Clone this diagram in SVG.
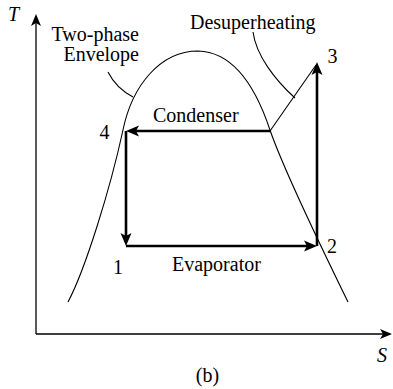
<svg xmlns="http://www.w3.org/2000/svg" width="393" height="389" viewBox="0 0 393 389">
  <style>
    .txt { font-family: "Liberation Serif", "Times New Roman", serif; font-size: 20px; fill: #000; }
    .it { font-style: italic; }
    .thin { fill: none; stroke: #000; stroke-width: 1.1; }
    .axis { fill: none; stroke: #000; stroke-width: 1.3; }
    .cyc { fill: none; stroke: #000; stroke-width: 2.6; }
  </style>
  <defs>
    <marker id="arrC" markerUnits="userSpaceOnUse" markerWidth="16" markerHeight="14" viewBox="0 -7 16 14" refX="3" refY="0" orient="auto">
      <path d="M0,-5.5 L13,0 L0,5.5 L3,0 Z" fill="#000"/>
    </marker>
    <marker id="arrA" markerUnits="userSpaceOnUse" markerWidth="16" markerHeight="14" viewBox="0 -7 16 14" refX="3" refY="0" orient="auto">
      <path d="M0,-5 L12,0 L0,5 L3,0 Z" fill="#000"/>
    </marker>
  </defs>
  <rect x="0" y="0" width="393" height="389" fill="#fff"/>

  <g id="axes">
    <path class="axis" d="M36,334 V23" marker-end="url(#arrA)"/>
    <path class="axis" d="M36,334 H383" marker-end="url(#arrA)"/>
    <text class="txt it" x="8" y="21">T</text>
    <text class="txt it" x="377" y="362">S</text>
  </g>

  <g id="envelope">
    <path class="thin" d="M68,302 C85,270 110,190 123,130 C132,86 160,51 198,51 C240,52 260,100 270,130 C282,165 325,255 348,302"/>
  </g>

  <g id="connectors">
    <path class="cyc" d="M270,131 H136" marker-end="url(#arrC)"/>
    <path class="cyc" d="M126,131 V236" marker-end="url(#arrC)"/>
    <path class="cyc" d="M126,246 H307" marker-end="url(#arrC)"/>
    <path class="cyc" d="M317,246 V72" marker-end="url(#arrC)"/>
    <path class="thin" d="M270,131 L316,65"/>
    <path class="thin" d="M108,72 Q116,88 133,97"/>
    <path class="thin" d="M253,32 C256,55 275,80 295,98"/>
  </g>

  <g id="label-envelope">
    <text class="txt" x="139" y="41" text-anchor="end">Two-phase</text>
    <text class="txt" x="139" y="61" text-anchor="end">Envelope</text>
  </g>
  <g id="label-desuperheating">
    <text class="txt" x="190" y="29">Desuperheating</text>
  </g>
  <g id="label-condenser">
    <text class="txt" x="153" y="122">Condenser</text>
  </g>
  <g id="label-evaporator">
    <text class="txt" x="172" y="271">Evaporator</text>
  </g>
  <g id="state-1"><text class="txt" x="118" y="274" text-anchor="middle">1</text></g>
  <g id="state-2"><text class="txt" x="332" y="253" text-anchor="middle">2</text></g>
  <g id="state-3"><text class="txt" x="332.5" y="63" text-anchor="middle">3</text></g>
  <g id="state-4"><text class="txt" x="104.5" y="139" text-anchor="middle">4</text></g>
  <g id="caption"><text class="txt" x="207.5" y="382" text-anchor="middle">(b)</text></g>
</svg>
